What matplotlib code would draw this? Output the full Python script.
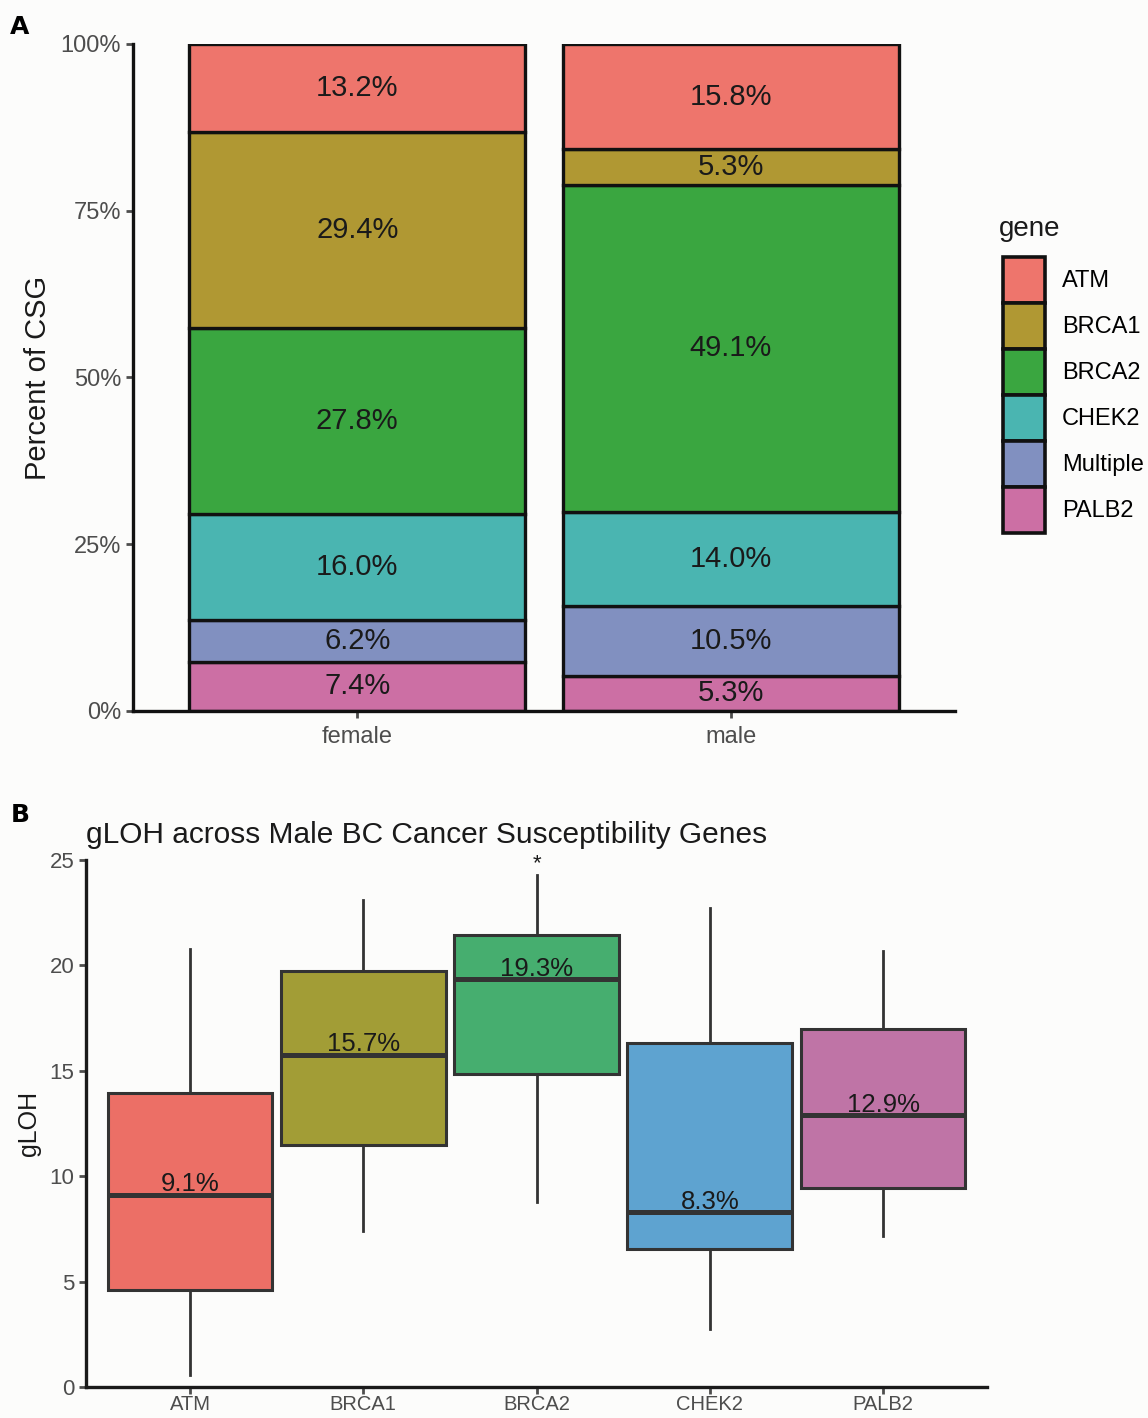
import numpy as np
import matplotlib.pyplot as plt
from matplotlib.patches import Patch

plt.rcParams['font.family'] = ['Liberation Sans', 'DejaVu Sans']

# panel A data (percent of CSG, per sex)
genes = ['ATM', 'BRCA1', 'BRCA2', 'CHEK2', 'Multiple', 'PALB2']
sexes = ['female', 'male']
female_pct = [13.2, 29.4, 27.8, 16.0, 6.2, 7.4]
male_pct = [15.8, 5.3, 49.1, 14.0, 10.5, 5.3]
colors_a = ['#EE756C', '#B09833', '#3AA640', '#4AB5B1', '#8190C0', '#CC6FA4']

# panel B data (gLOH box stats per gene)
box_genes = ['ATM', 'BRCA1', 'BRCA2', 'CHEK2', 'PALB2']
whis_lo = [0.56, 7.39, 8.76, 2.73, 7.16]
q1 = [4.6, 11.49, 14.83, 6.54, 9.42]
med = [9.13, 15.77, 19.35, 8.29, 12.9]
q3 = [13.94, 19.73, 21.42, 16.34, 17.0]
whis_hi = [20.8, 23.1, 24.3, 22.7, 20.7]
med_labels = ['9.1%', '15.7%', '19.3%', '8.3%', '12.9%']
colors_b = ['#EC6F66', '#A29D36', '#46AE6F', '#5EA3D0', '#BF74A6']

bg = '#fcfcfb'
tick_col = '#4d4d4d'
fig = plt.figure(figsize=(11.48, 14.18), dpi=100, facecolor=bg)

# ---------------- panel A ----------------
axA = fig.add_axes([0.1159, 0.4986, 0.7160, 0.4704], facecolor=bg)
x = np.arange(1, 3)
data = np.array([female_pct, male_pct]) / 100.0
bottom = np.zeros(2)
# stack from bottom: PALB2 ... ATM
for i in range(len(genes) - 1, -1, -1):
    vals = data[:, i]
    axA.bar(x, vals, width=0.9, bottom=bottom, color=colors_a[i],
            edgecolor='#111111', linewidth=2.4, zorder=2)
    for xi, b, v in zip(x, bottom, vals):
        axA.text(xi, b + v / 2, f'{v*100:.1f}%', ha='center', va='center',
                 fontsize=21, color='#1a1a1a', zorder=3)
    bottom += vals

axA.set_xlim(0.4, 2.6)
axA.set_ylim(0, 1)
axA.set_xticks(x)
axA.set_xticklabels(sexes)
axA.set_yticks([0, 0.25, 0.5, 0.75, 1.0])
axA.set_yticklabels(['0%', '25%', '50%', '75%', '100%'])
axA.tick_params(axis='both', colors=tick_col, labelsize=17, length=5, width=2)
axA.tick_params(axis='x', pad=6)
for s in ['top', 'right']:
    axA.spines[s].set_visible(False)
for s in ['left', 'bottom']:
    axA.spines[s].set_linewidth(2.4)
    axA.spines[s].set_color('#111111')
axA.set_ylabel('Percent of CSG', fontsize=21, color='#1a1a1a', labelpad=6)

# legend: title drawn separately to get ggplot-like spacing
fig.text(0.8705, 1 - 229 / 1418, 'gene', fontsize=20, color='#1a1a1a',
         va='center', ha='left')
handles = [Patch(facecolor=c, edgecolor='#111111', linewidth=2.6) for c in colors_a]
leg = fig.legend(handles, genes, loc='upper left',
                 bbox_to_anchor=(0.8737, 1 - 257 / 1418), frameon=False,
                 fontsize=17, handlelength=1.78, handleheight=2.62,
                 labelspacing=0.0, handletextpad=0.72, borderpad=0,
                 borderaxespad=0)

fig.text(0.009, 0.976, 'A', fontsize=18, weight='bold', family='DejaVu Sans')

# ---------------- panel B ----------------
axB = fig.add_axes([0.0749, 1 - 1387 / 1418, 0.7849, (1387 - 860) / 1418],
                   facecolor=bg)
stats = []
for i, g in enumerate(box_genes):
    stats.append(dict(label=g, whislo=whis_lo[i], q1=q1[i], med=med[i],
                      q3=q3[i], whishi=whis_hi[i], fliers=[]))
pos = np.arange(1, len(box_genes) + 1)
bp = axB.bxp(stats, positions=pos, widths=0.95, patch_artist=True,
             showcaps=False,
             boxprops=dict(edgecolor='#333333', linewidth=2.2),
             medianprops=dict(color='#333333', linewidth=3.6),
             whiskerprops=dict(color='#333333', linewidth=2.0))
for patch, c in zip(bp['boxes'], colors_b):
    patch.set_facecolor(c)
for p, m, lab in zip(pos, med, med_labels):
    axB.text(p, m - 0.08, lab, ha='center', va='bottom', fontsize=18.5,
             color='#1a1a1a', zorder=5)
axB.text(3, whis_hi[2] + 0.05, '*', ha='center', va='bottom', fontsize=16,
         color='#1a1a1a')

axB.set_xlim(0.4, 5.6)
axB.set_ylim(0, 25)
axB.set_yticks([0, 5, 10, 15, 20, 25])
axB.tick_params(axis='y', colors=tick_col, labelsize=16, length=5, width=2)
axB.tick_params(axis='x', colors=tick_col, labelsize=14.5, length=5, width=2, pad=1)
for s in ['top', 'right']:
    axB.spines[s].set_visible(False)
for s in ['left', 'bottom']:
    axB.spines[s].set_linewidth(2.4)
    axB.spines[s].set_color('#1a1a1a')
axB.set_ylabel('gLOH', fontsize=18, color='#1a1a1a', labelpad=6)
axB.set_title('gLOH across Male BC Cancer Susceptibility Genes', loc='left',
              fontsize=21.5, color='#1a1a1a', pad=12)

fig.text(0.009, 0.420, 'B', fontsize=18, weight='bold', family='DejaVu Sans')

fig.savefig('out.png', dpi=100, facecolor=bg)
